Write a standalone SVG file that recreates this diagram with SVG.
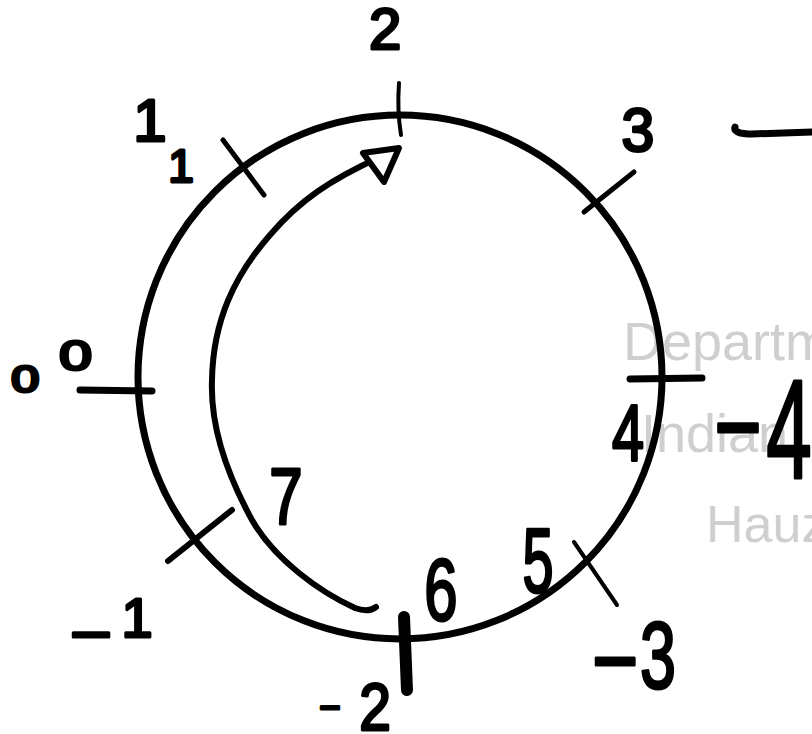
<svg xmlns="http://www.w3.org/2000/svg" width="812" height="734" viewBox="0 0 812 734">
<style>
.bg{font-family:"Liberation Sans",Arial,sans-serif;fill:#cfcfcf}
.ink{fill:none;stroke:#000;stroke-linecap:round;stroke-linejoin:round}
.hw{font-family:"Liberation Sans",Arial,sans-serif;fill:#000;stroke:#000;stroke-width:3;stroke-linejoin:round;text-anchor:middle}
</style>
<rect width="812" height="734" fill="#fff"/>
<g id="watermark">
<text class="bg" x="623" y="360" font-size="54">Departm</text>
<text class="bg" x="641" y="452" font-size="54">Indian</text>
<text class="bg" x="706" y="542" font-size="52">Hauz</text>
</g>
<g id="ring">
<ellipse class="ink" cx="400" cy="377" rx="262" ry="262" stroke-width="7"/>
</g>
<g id="ticks">
<path class="ink" d="M399,83 Q397,110 401,135" stroke-width="4"/>
<path class="ink" d="M223,140 L264,195" stroke-width="5"/>
<path class="ink" d="M634,172 L584,212" stroke-width="5"/>
<path class="ink" d="M80,390 L152,391" stroke-width="7"/>
<path class="ink" d="M630,379 L702,378" stroke-width="7"/>
<path class="ink" d="M232,510 L168,561" stroke-width="6"/>
<path class="ink" d="M574,542 L617,605" stroke-width="4"/>
<path class="ink" d="M404,617 L407,690" stroke-width="12"/>
<path class="ink" d="M735,127 Q733,134 752,134 L812,132" stroke-width="7"/>
</g>
<g id="connectors">
<path class="ink" d="M376,607 Q368,613 355,608 C320,592 275,560 252,520 C230,480 210,430 212,380 C213,320 235,275 270,235 C300,200 330,180 380,157" stroke-width="6"/>
<path d="M363,153 L399,148 L384,182 Z" fill="#fff" stroke="#000" stroke-width="6" stroke-linejoin="round"/>
</g>
<g id="labels">
<text class="hw" transform="translate(385,49)" font-size="58"><tspan x="0" y="0">2</tspan></text>
<text class="hw" transform="translate(150,141)" font-size="60"><tspan x="0" y="0">1</tspan></text>
<text class="hw" transform="translate(181,182)" font-size="46"><tspan x="0" y="0">1</tspan></text>
<text class="hw" transform="translate(638,151) scale(0.95,1)" font-size="62"><tspan x="0" y="0">3</tspan></text>
<text class="hw" transform="scale(1.4,1)"><tspan x="18" y="392" font-size="36">0</tspan><tspan x="54" y="370" font-size="42">0</tspan></text>
<text class="hw" transform="translate(628,460) scale(0.72,1)" font-size="80"><tspan x="0" y="0">4</tspan></text>
<text class="hw" transform="translate(789,478) scale(0.58,1)" font-size="141"><tspan x="-88" y="-19" font-size="124">–</tspan><tspan x="0" y="0">4</tspan></text>
<text class="hw" transform="translate(286,524) scale(0.75,1)" font-size="80"><tspan x="0" y="0">7</tspan></text>
<text class="hw" transform="translate(137,637)" font-size="56"><tspan x="-46" y="14" font-size="64">–</tspan><tspan x="0" y="0">1</tspan></text>
<text class="hw" transform="translate(441,620) scale(0.68,1)" font-size="88"><tspan x="0" y="0">6</tspan></text>
<text class="hw" transform="translate(538,592) scale(0.62,1)" font-size="90"><tspan x="0" y="0">5</tspan></text>
<text class="hw" transform="translate(658,688) scale(0.68,1)" font-size="95"><tspan x="-63" y="0" font-size="103">–</tspan><tspan x="0" y="0">3</tspan></text>
<text class="hw" transform="translate(375,730) scale(0.85,1)" font-size="67"><tspan x="-53" y="-12" font-size="38">–</tspan><tspan x="0" y="0">2</tspan></text>
</g>
</svg>
